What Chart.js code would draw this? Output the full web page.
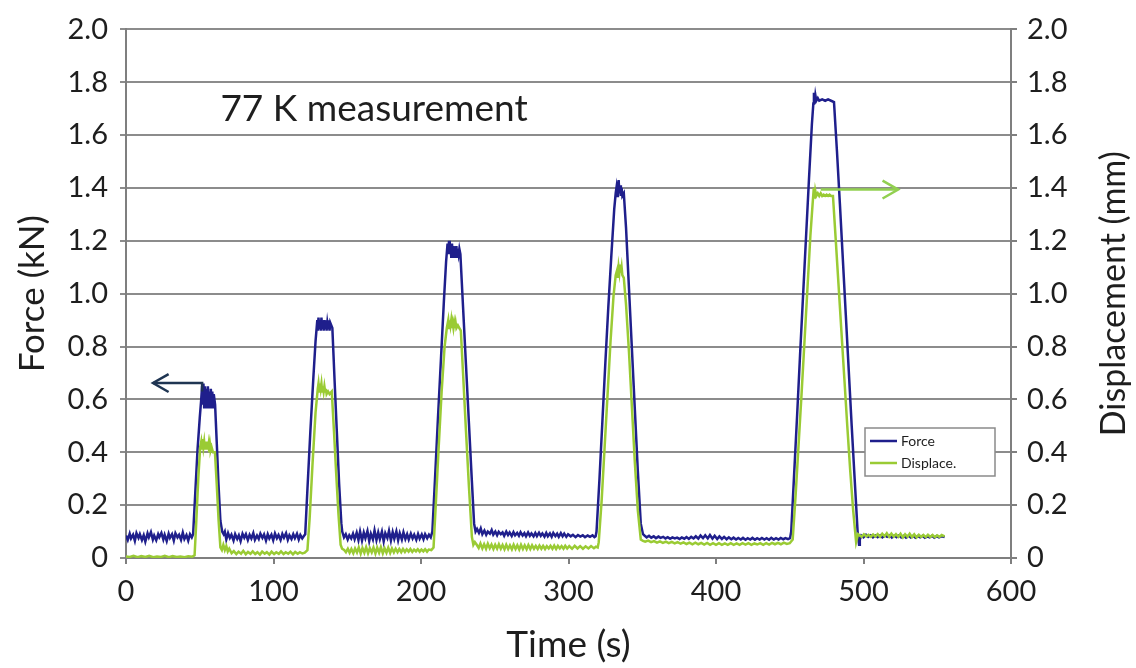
<!DOCTYPE html>
<html>
<head>
<meta charset="utf-8">
<title>77 K measurement</title>
<script src="https://cdn.jsdelivr.net/npm/chart.js@4.4.1/dist/chart.umd.min.js"></script>
<style>
  html, body { margin: 0; padding: 0; background: #fff; }
  #wrap { width: 1136px; height: 668px; }
</style>
</head>
<body>
<div id="wrap"><canvas id="lineChart" width="1136" height="668"></canvas></div>
<script>
// tick labels
const timeTicks = [0, 100, 200, 300, 400, 500, 600];
const valueTicks = [0, 0.2, 0.4, 0.6, 0.8, 1.0, 1.2, 1.4, 1.6, 1.8, 2.0];

const seriesNames = ['Force', 'Displace.'];
const noteText = '77 K measurement';
const noteAt = [64, 1.655];

// arrows, last point is the tip
const forceArrow = [[51.6, 0.63], [51.6, 0.662], [18.3, 0.662]];
const dispArrow = [[471, 1.394], [523.5, 1.394]];

// Force (kN): [time s, value]
const forceData = [
  [0,0.085],[1.2,0.068],[2.5,0.092],[3.4,0.074],[4.8,0.088],[6,0.065],[7.1,0.094],[8.5,0.076],[9.4,0.09],[10.8,0.068],
  [12,0.086],[13.1,0.062],[14.6,0.093],[15.5,0.078],[16.9,0.098],[18.2,0.07],[19.1,0.085],[20.5,0.067],[21.8,0.09],[22.6,0.079],
  [24,0.095],[25.3,0.07],[26.2,0.088],[27.6,0.064],[28.9,0.092],[29.8,0.076],[31.2,0.09],[32.4,0.066],[33.5,0.094],[34.9,0.078],
  [36,0.088],[37.3,0.069],[38.5,0.096],[39.6,0.072],[41,0.087],[42.2,0.066],[43.4,0.09],[44.6,0.078],
  [45.5,0.09],[47,0.25],[48.5,0.41],[50,0.53],[51,0.6],[51.6,0.65],[52,0.58],[52.5,0.66],[53,0.57],[53.5,0.65],
  [54,0.58],[54.5,0.64],[55,0.57],[55.5,0.65],[56,0.58],[56.5,0.63],[57,0.57],[57.5,0.64],[58,0.58],[58.5,0.63],
  [59,0.57],[59.5,0.62],[60.4,0.58],[61.5,0.44],[62.7,0.28],[64,0.14],[65.2,0.1],[66.2,0.09],[67,0.1],
  [68,0.07],[69.2,0.094],[70.4,0.076],[71.5,0.088],[72.9,0.066],[74,0.09],[75.4,0.072],[76.5,0.086],[77.7,0.064],[79,0.092],
  [80.2,0.077],[81.3,0.09],[82.6,0.068],[83.8,0.088],[85,0.074],[86.3,0.094],[87.4,0.069],[88.8,0.085],[90,0.072],[91.1,0.092],
  [92.5,0.076],[93.6,0.089],[94.9,0.066],[96.1,0.09],[97.2,0.074],[98.6,0.088],[99.8,0.067],[101,0.093],[102.3,0.075],[103.4,0.087],
  [104.8,0.068],[106,0.091],[107.1,0.077],[108.5,0.094],[109.7,0.069],[110.8,0.086],[112.2,0.072],[113.4,0.09],[114.5,0.075],[115.9,0.092],
  [117.1,0.07],[118.2,0.087],[119.5,0.074],[120.6,0.083],
  [121.5,0.09],[123,0.26],[125,0.48],[127,0.68],[128.5,0.82],[129.7,0.9],[130,0.86],[130.5,0.91],[131,0.87],[131.5,0.9],
  [132,0.86],[132.5,0.91],[133,0.87],[133.5,0.9],[134,0.86],[134.5,0.9],[135,0.87],[135.5,0.9],[136,0.86],[136.5,0.89],
  [137,0.87],[137.5,0.9],[138,0.86],[138.5,0.89],[139.9,0.87],[141.5,0.66],[143,0.47],[144.5,0.28],[146,0.13],[146.6,0.1],
  [147.8,0.078],[149,0.09],[150.3,0.07],[151.4,0.086],[152.7,0.074],[153.9,0.092],[155,0.071],[156.4,0.096],[157.6,0.068],[158.7,0.1],
  [160,0.066],[161.2,0.096],[162.3,0.075],[163.7,0.102],[164.9,0.064],[166,0.092],[167.4,0.07],[168.5,0.104],[169.8,0.068],[171,0.097],
  [172.1,0.072],[173.5,0.1],[174.7,0.063],[175.8,0.094],[177.2,0.076],[178.3,0.103],[179.6,0.066],[180.8,0.098],[181.9,0.073],[183.3,0.101],
  [184.5,0.067],[185.6,0.094],[187,0.07],[188.1,0.097],[189.4,0.072],[190.6,0.09],[191.7,0.07],[193.1,0.092],[194.3,0.074],[195.4,0.088],
  [196.8,0.069],[198,0.091],[199.1,0.073],[200.5,0.089],[201.7,0.071],[202.8,0.09],[204.2,0.075],[205.4,0.088],[206.6,0.078],
  [207.7,0.1],[209.5,0.3],[211.5,0.53],[213.5,0.75],[215.5,0.97],[217,1.12],[218,1.19],[218.5,1.15],[219,1.2],[219.5,1.15],
  [220,1.19],[220.5,1.14],[221,1.19],[221.5,1.15],[222,1.18],[222.5,1.14],[223,1.18],[223.5,1.15],[224,1.18],[224.5,1.14],
  [225,1.17],[225.5,1.15],[226,1.17],[226.7,1.15],[228.5,0.95],[230.5,0.73],[232.5,0.51],[234.5,0.29],[236,0.13],[237,0.1],
  [238,0.11],[239.3,0.095],[240.5,0.112],[241.6,0.09],[243,0.104],[244.2,0.088],[245.3,0.1],[246.7,0.092],[247.9,0.106],[249,0.088],
  [250.4,0.1],[251.6,0.086],[252.7,0.099],[254.1,0.09],[255.3,0.097],[256.4,0.084],[257.8,0.1],[259,0.087],[260.1,0.097],[261.5,0.083],
  [262.7,0.098],[263.8,0.086],[265.2,0.095],[266.4,0.084],[267.5,0.098],[268.9,0.085],[270.1,0.094],[271.2,0.082],[272.6,0.097],[273.8,0.084],
  [274.9,0.093],[276.3,0.082],[277.5,0.095],[278.6,0.083],[280,0.096],[281.2,0.084],[282.3,0.093],[283.7,0.081],[284.9,0.095],[286,0.082],
  [287.4,0.093],[288.6,0.08],[289.7,0.095],[291.1,0.083],[292.3,0.092],[293.4,0.08],[294.8,0.094],[296,0.082],[297.1,0.092],[298.5,0.08],
  [299.7,0.09],[301.5,0.082],[303,0.088],[304.8,0.079],[306.4,0.087],[308,0.081],[309.7,0.086],[311.2,0.079],[313,0.085],[314.6,0.08],
  [316.3,0.086],[317.6,0.079],[318.4,0.082],
  [319,0.1],[321,0.3],[323,0.52],[325,0.74],[327,0.95],[329,1.14],[331,1.32],[332,1.38],[332.5,1.4],[333,1.37],
  [333.5,1.41],[334,1.43],[334.5,1.38],[335,1.41],[335.5,1.37],[336,1.4],[336.5,1.37],[337.5,1.38],[339,1.25],[341,1.02],
  [343,0.79],[345,0.56],[347,0.33],[349,0.13],[350.5,0.09],[351.5,0.085],
  [353,0.078],[354.6,0.084],[356.1,0.077],[357.8,0.082],[359.3,0.075],[361,0.081],[362.4,0.076],[364.2,0.08],[365.7,0.074],[367.3,0.079],
  [368.9,0.073],[370.4,0.078],[372.1,0.074],[373.6,0.077],[375.3,0.072],[376.8,0.078],[378.5,0.073],[380,0.079],[381.6,0.072],[383.2,0.08],
  [384.8,0.074],[386.3,0.082],[388,0.073],[389.5,0.085],[391.2,0.075],[392.7,0.086],[394.4,0.074],[395.9,0.087],[397.6,0.073],[399.1,0.084],
  [400.8,0.072],[402.3,0.082],[404,0.072],[405.5,0.08],[407.2,0.071],[408.7,0.078],[410.4,0.071],[411.9,0.077],[413.6,0.07],[415.1,0.076],
  [416.8,0.07],[418.3,0.076],[420,0.069],[421.5,0.075],[423.2,0.07],[424.7,0.076],[426.4,0.069],[427.9,0.075],[429.6,0.07],[431.1,0.076],
  [432.8,0.07],[434.3,0.075],[436,0.069],[437.5,0.076],[439.2,0.07],[440.7,0.075],[442.4,0.07],[443.9,0.076],[445.6,0.071],[447.1,0.075],
  [448.8,0.071],[450.2,0.075],
  [451,0.1],[453,0.32],[455,0.54],[457,0.77],[459,0.99],[461,1.21],[463,1.43],[465,1.64],[466,1.72],[466.4,1.76],
  [466.9,1.72],[467.4,1.75],[468,1.73],[469,1.74],[470,1.73],[472,1.735],[474,1.73],[476,1.735],[478,1.73],[480,1.725],
  [482,1.54],[484,1.34],[486,1.13],[488,0.92],[490,0.71],[492,0.5],[494,0.3],[496,0.1],[497,0.05],[497.5,0.07],
  [498.5,0.085],[500,0.078],[501.7,0.088],[503.2,0.08],[504.9,0.086],[506.4,0.078],[508.1,0.085],[509.6,0.079],[511.3,0.086],[512.8,0.078],
  [514.5,0.085],[516,0.08],[517.7,0.086],[519.2,0.077],[520.9,0.085],[522.4,0.079],[524.1,0.086],[525.6,0.078],[527.3,0.084],[528.8,0.077],
  [530.5,0.085],[532,0.078],[533.7,0.084],[535.2,0.077],[536.9,0.083],[538.4,0.078],[540.1,0.084],[541.6,0.077],[543.3,0.082],[544.8,0.078],
  [546.5,0.084],[548,0.077],[549.7,0.083],[551.2,0.078],[552.9,0.082],[555,0.079]
];

// Displacement (mm): [time s, value]
const dispData = [
  [0,0.006],[2.6,0.004],[5.1,0.008],[7.9,0.003],[10.4,0.007],[13.2,0.004],[15.7,0.008],[18.5,0.003],[21,0.006],[23.8,0.004],
  [26.3,0.008],[29.1,0.003],[31.6,0.007],[34.4,0.004],[36.9,0.006],[39.7,0.003],[42.2,0.007],[45,0.005],
  [46.5,0.01],[47.5,0.12],[49,0.3],[50.3,0.42],[51,0.44],[51.5,0.41],[52,0.45],[52.5,0.42],[53,0.44],[53.5,0.41],
  [54,0.44],[54.5,0.41],[55,0.44],[55.5,0.41],[56,0.43],[56.5,0.4],[57,0.43],[57.5,0.41],[58,0.42],[59,0.4],
  [60.3,0.4],[61.5,0.28],[62.8,0.14],[64,0.04],[65,0.03],[66,0.05],[67,0.03],[68,0.045],[69,0.025],[70,0.035],
  [71.6,0.018],[73.1,0.026],[74.8,0.015],[76.3,0.024],[78,0.016],[79.5,0.027],[81.2,0.014],[82.7,0.023],[84.4,0.016],[85.9,0.025],
  [87.6,0.015],[89.1,0.022],[90.8,0.013],[92.3,0.024],[94,0.016],[95.5,0.022],[97.2,0.013],[98.7,0.024],[100.4,0.015],[101.9,0.022],
  [103.6,0.016],[105.1,0.025],[106.8,0.015],[108.3,0.022],[110,0.016],[111.5,0.024],[113.2,0.014],[114.7,0.023],[116.4,0.016],[117.9,0.022],
  [119.6,0.017],[121.2,0.02],
  [123,0.03],[124.5,0.15],[126.5,0.36],[128.5,0.55],[130,0.64],[130.5,0.66],[131,0.63],[131.5,0.66],[132,0.64],[132.5,0.66],
  [133,0.63],[133.5,0.65],[134,0.63],[134.5,0.65],[135,0.63],[135.5,0.64],[136,0.62],[137,0.63],[138,0.62],[139.5,0.63],
  [141,0.48],[142.5,0.32],[144,0.17],[145.5,0.05],[146.5,0.035],
  [147.9,0.03],[149.1,0.022],[150.4,0.035],[151.6,0.02],[152.8,0.034],[154.1,0.018],[155.3,0.036],[156.6,0.021],[157.8,0.04],[159.1,0.017],
  [160.3,0.038],[161.6,0.02],[162.8,0.041],[164.1,0.018],[165.3,0.037],[166.6,0.021],[167.8,0.04],[169.1,0.017],[170.3,0.039],[171.6,0.02],
  [172.8,0.041],[174.1,0.018],[175.3,0.037],[176.6,0.02],[177.8,0.039],[179.1,0.019],[180.3,0.036],[181.6,0.021],[182.8,0.035],[184.1,0.022],
  [185.3,0.034],[186.6,0.022],[187.8,0.034],[189.1,0.023],[190.3,0.033],[191.6,0.024],[192.8,0.034],[194.1,0.023],[195.3,0.032],[196.6,0.025],
  [197.8,0.033],[199.1,0.024],[200.3,0.032],[201.6,0.025],[202.8,0.033],[204.1,0.024],[205.3,0.032],[207,0.03],
  [208.5,0.04],[210,0.2],[212,0.42],[214,0.63],[216,0.8],[217.5,0.87],[218.5,0.9],[219,0.87],[219.5,0.9],[220,0.88],
  [220.5,0.9],[221,0.87],[221.5,0.89],[222,0.87],[222.5,0.89],[223,0.87],[223.5,0.89],[224,0.87],[225,0.88],[226,0.87],
  [227,0.86],[228.5,0.7],[230.5,0.48],[232.5,0.27],[234.5,0.08],[235.5,0.05],[236.5,0.06],
  [237.8,0.05],[239.1,0.038],[240.3,0.055],[241.6,0.036],[242.8,0.052],[244.1,0.035],[245.3,0.054],[246.6,0.037],[247.8,0.051],[249.1,0.034],
  [250.3,0.05],[251.6,0.035],[252.8,0.052],[254.1,0.035],[255.3,0.049],[256.6,0.033],[257.8,0.05],[259.1,0.034],[260.3,0.048],[261.6,0.033],
  [262.8,0.05],[264.1,0.034],[265.3,0.048],[266.6,0.032],[267.8,0.05],[269.1,0.034],[270.3,0.048],[271.6,0.033],[272.8,0.049],[274.1,0.034],
  [275.3,0.048],[276.6,0.035],[277.8,0.046],[279.1,0.034],[280.3,0.047],[281.6,0.035],[282.8,0.046],[284.1,0.034],[285.3,0.045],[286.6,0.036],
  [287.8,0.046],[289.1,0.035],[290.3,0.047],[291.6,0.034],[292.8,0.046],[294.1,0.036],[295.3,0.045],[296.6,0.035],[297.8,0.046],[299.1,0.036],
  [300.5,0.045],[302.4,0.035],[304.2,0.046],[306.1,0.036],[307.9,0.045],[309.8,0.035],[311.6,0.044],[313.5,0.036],[315.3,0.045],[317.2,0.037],
  [318.6,0.043],[319.8,0.04],
  [320.5,0.06],[322.5,0.22],[324.5,0.42],[326.5,0.62],[328.5,0.82],[330.5,0.99],[332,1.07],[333,1.09],[333.5,1.06],[334,1.1],
  [334.5,1.08],[335,1.11],[335.5,1.08],[336,1.1],[336.5,1.07],[337.5,1.06],[339,0.96],[341,0.78],[343,0.57],[345,0.36],
  [347,0.18],[349,0.07],[350.5,0.065],
  [352,0.062],[354,0.066],[356,0.06],[358,0.064],[360,0.058],[362,0.063],[364,0.057],[366,0.062],[368,0.056],[370,0.061],
  [372,0.055],[374,0.06],[376,0.054],[378,0.059],[380,0.053],[382,0.058],[384,0.052],[386,0.058],[388,0.052],[390,0.057],
  [392,0.051],[394,0.057],[396,0.05],[398,0.056],[400,0.05],[402,0.056],[404,0.05],[406,0.055],[408,0.05],[410,0.056],
  [412,0.05],[414,0.055],[416,0.05],[418,0.056],[420,0.051],[422,0.056],[424,0.05],[426,0.055],[428,0.051],[430,0.056],
  [432,0.05],[434,0.056],[436,0.051],[438,0.057],[440,0.052],[442,0.057],[444,0.052],[446,0.058],[448,0.053],[450,0.056],
  [452,0.07],[454,0.24],[456,0.43],[458,0.62],[460,0.82],[462,1.02],[464,1.22],[465.5,1.34],[466.3,1.4],[466.8,1.36],
  [467.3,1.39],[468,1.37],[469,1.38],[470,1.37],[471,1.38],[472,1.37],[473,1.375],[474,1.37],[475,1.375],[476,1.37],
  [477,1.375],[478,1.37],[479.3,1.37],[481,1.22],[483,1.04],[485,0.86],[487,0.68],[489,0.5],[491,0.33],[493,0.18],
  [495,0.06],[496.3,0.09],[497.5,0.085],
  [498.8,0.08],[500.3,0.09],[501.9,0.082],[503.4,0.088],[505,0.08],[506.5,0.089],[508.1,0.081],[509.6,0.09],[511.2,0.08],[512.7,0.092],
  [514.3,0.082],[515.8,0.094],[517.4,0.08],[518.9,0.092],[520.5,0.081],[522,0.09],[523.6,0.08],[525.1,0.092],[526.7,0.078],[528.2,0.09],
  [529.8,0.08],[531.3,0.092],[532.9,0.079],[534.4,0.09],[536,0.078],[537.5,0.088],[539.1,0.08],[540.6,0.087],[542.2,0.079],[543.7,0.088],
  [545.3,0.08],[546.8,0.087],[548.4,0.079],[549.9,0.086],[551.5,0.08],[553,0.087],[555,0.082]
];

const FONT = 'Lato, "Open Sans", sans-serif';
const TEXT = '#1e1e1e';
const AXIS = '#7f7f7f';
const FORCE_COLOR = '#1f1f8c';
const DISP_COLOR = '#9acb34';

function toPoints(list) {
    return list.map(p => ({ x: p[0], y: p[1] }));
}

function tickLabel(v) {
    return v === 0 ? '0' : v.toFixed(1);
}

function drawArrow(ctx, pts, xs, ys, color) {
    const px = pts.map(p => [xs.getPixelForValue(p[0]), ys.getPixelForValue(p[1])]);
    ctx.save();
    ctx.strokeStyle = color;
    ctx.lineWidth = 2.5;
    ctx.beginPath();
    px.forEach((p, i) => i ? ctx.lineTo(p[0], p[1]) : ctx.moveTo(p[0], p[1]));
    ctx.stroke();
    const tip = px[px.length - 1];
    const prev = px[px.length - 2];
    const a = Math.atan2(tip[1] - prev[1], tip[0] - prev[0]);
    const len = 18, spread = 0.52;
    ctx.beginPath();
    ctx.moveTo(tip[0] - len * Math.cos(a - spread), tip[1] - len * Math.sin(a - spread));
    ctx.lineTo(tip[0], tip[1]);
    ctx.lineTo(tip[0] - len * Math.cos(a + spread), tip[1] - len * Math.sin(a + spread));
    ctx.stroke();
    ctx.restore();
}

const extras = {
    id: 'extras',
    afterDatasetsDraw(chart) {
        const { ctx, scales, chartArea } = chart;
        drawArrow(ctx, forceArrow, scales.x, scales.y, '#1f3552');
        drawArrow(ctx, dispArrow, scales.x, scales.y2, '#92d050');

        // note
        ctx.save();
        ctx.fillStyle = TEXT;
        ctx.font = '37px ' + FONT;
        ctx.textBaseline = 'alphabetic';
        ctx.fillText(noteText, scales.x.getPixelForValue(noteAt[0]), scales.y.getPixelForValue(noteAt[1]));
        ctx.restore();

        // right axis title, reads bottom to top like the left one
        ctx.save();
        ctx.translate(1114, (chartArea.top + chartArea.bottom) / 2);
        ctx.rotate(-Math.PI / 2);
        ctx.fillStyle = TEXT;
        ctx.font = '34px ' + FONT;
        ctx.textAlign = 'center';
        ctx.textBaseline = 'middle';
        ctx.fillText('Displacement (mm)', 0, 0);
        ctx.restore();

        // legend box
        const lx = 865, ly = 428, lw = 130, lh = 48;
        ctx.save();
        ctx.fillStyle = '#fff';
        ctx.fillRect(lx, ly, lw, lh);
        ctx.strokeStyle = '#8a8a8a';
        ctx.lineWidth = 1.5;
        ctx.strokeRect(lx, ly, lw, lh);
        const colors = [FORCE_COLOR, DISP_COLOR];
        ctx.font = '14px ' + FONT;
        ctx.textBaseline = 'middle';
        seriesNames.forEach((name, i) => {
            const yy = ly + 13 + i * 22;
            ctx.strokeStyle = colors[i];
            ctx.lineWidth = 2.5;
            ctx.beginPath();
            ctx.moveTo(lx + 5, yy);
            ctx.lineTo(lx + 32, yy);
            ctx.stroke();
            ctx.fillStyle = TEXT;
            ctx.fillText(name, lx + 36, yy);
        });
        ctx.restore();
    }
};

const ctx = document.getElementById('lineChart').getContext('2d');
new Chart(ctx, {
    type: 'line',
    data: {
        datasets: [{
            label: seriesNames[1],
            data: toPoints(dispData),
            yAxisID: 'y2',
            borderColor: DISP_COLOR,
            borderWidth: 2.5,
            pointRadius: 0,
            tension: 0,
            fill: false,
            order: 0
        }, {
            label: seriesNames[0],
            data: toPoints(forceData),
            yAxisID: 'y',
            borderColor: FORCE_COLOR,
            borderWidth: 2.5,
            pointRadius: 0,
            tension: 0,
            fill: false,
            order: 1
        }]
    },
    options: {
        responsive: false,
        animation: false,
        events: [],
        layout: { padding: { top: 23, left: 0, right: 0, bottom: 0 } },
        plugins: {
            legend: { display: false },
            tooltip: { enabled: false }
        },
        scales: {
            x: {
                type: 'linear',
                min: 0,
                max: 600,
                afterBuildTicks: s => { s.ticks = timeTicks.map(v => ({ value: v })); },
                afterFit: s => { s.height = 110; },
                ticks: { color: TEXT, font: { family: FONT, size: 29 }, padding: 10, maxRotation: 0 },
                grid: { drawOnChartArea: false, color: AXIS, lineWidth: 2, tickLength: 6 },
                border: { color: AXIS, width: 2 },
                title: { display: true, text: 'Time (s)', color: TEXT, font: { family: FONT, size: 37 }, padding: { top: 0, bottom: 1 } }
            },
            y: {
                position: 'left',
                min: 0,
                max: 2,
                afterBuildTicks: s => { s.ticks = valueTicks.map(v => ({ value: v })); },
                afterFit: s => { s.width = 126; },
                ticks: { color: TEXT, font: { family: FONT, size: 29 }, padding: 12, callback: tickLabel },
                grid: { color: '#8c8c8c', lineWidth: 2, tickLength: 6 },
                border: { color: AXIS, width: 2 },
                title: { display: true, text: 'Force (kN)', color: TEXT, font: { family: FONT, size: 35 }, padding: { top: 12, bottom: 0 } }
            },
            y2: {
                position: 'right',
                min: 0,
                max: 2,
                afterBuildTicks: s => { s.ticks = valueTicks.map(v => ({ value: v })); },
                afterFit: s => { s.width = 125; },
                ticks: { color: TEXT, font: { family: FONT, size: 29 }, padding: 10, callback: tickLabel },
                grid: { drawOnChartArea: false, color: AXIS, lineWidth: 2, tickLength: 6 },
                border: { color: AXIS, width: 2 },
                title: { display: false }
            }
        }
    },
    plugins: [extras]
});
</script>
</body>
</html>
